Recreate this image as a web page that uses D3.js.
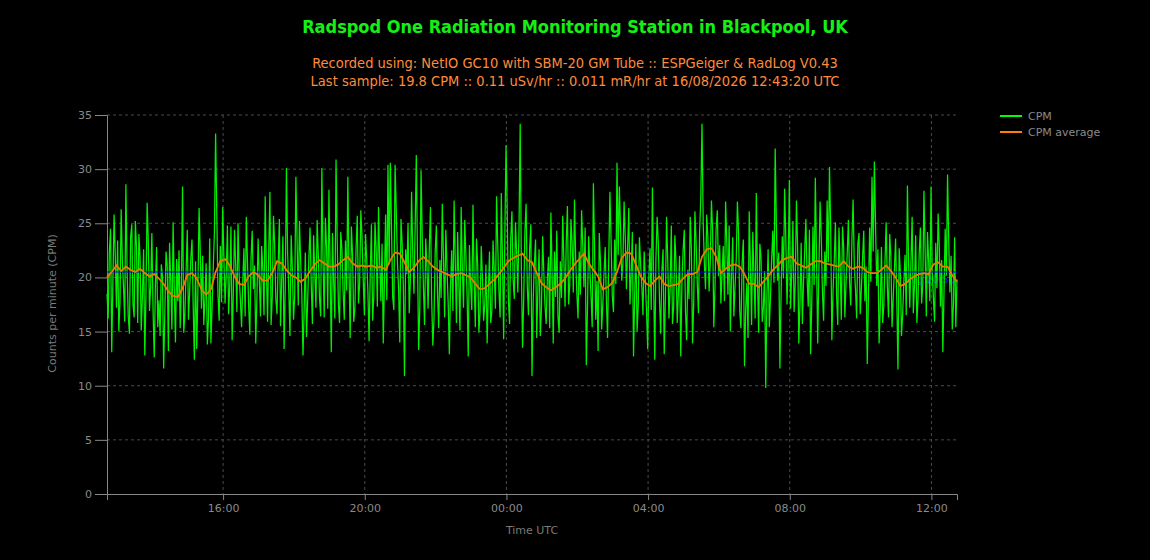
<!DOCTYPE html>
<html>
<head>
<meta charset="utf-8">
<script src="https://cdn.jsdelivr.net/npm/d3@7"></script>
<style>
  body { margin: 0; background: #000; }
  svg { display: block; }
</style>
</head>
<body>
<div id="chart"></div>
<script>
// 24h window ending at the last sample
const windowStart = "2026-08-15T12:43:20Z";
const windowEnd = "2026-08-16T12:43:20Z";

// raw CPM, one reading every 2 minutes
const cpmStepMin = 2;
const cpmValues = [
  18.5,16.2,22.4,24.5,13.1,19.7,25.8,22.1,17.2,23.4,15.0,17.8,26.3,21.6,19.1,15.9,28.6,20.7,16.4,14.8,23.7,24.9,17.5,16.3,25.2,22.8,15.8,24.0,21.9,15.1,18.3,22.6,12.8,18.4,26.9,23.3,16.9,19.2,24.1,17.0,
  12.6,19.3,22.8,15.4,17.9,14.6,21.2,20.1,11.6,16.8,22.4,21.0,13.2,23.2,19.6,15.2,25.1,18.9,14.0,21.7,17.8,22.5,15.3,19.1,28.4,14.9,16.7,20.6,24.4,16.1,18.6,21.8,23.5,17.4,12.4,21.5,13.4,18.8,26.4,22.3,
  17.1,22.0,15.6,18.1,21.3,13.8,16.2,23.6,13.9,17.3,20.8,24.2,33.3,25.9,18.4,16.0,22.9,17.7,26.5,21.9,17.6,20.3,24.8,16.6,19.3,24.7,14.2,18.5,24.4,21.2,16.8,25.0,20.1,17.9,15.4,19.5,22.7,16.4,25.6,21.4,
  17.3,14.7,21.8,24.3,18.9,21.1,13.9,18.2,23.6,19.8,16.4,22.9,20.7,16.5,27.5,20.8,15.9,22.4,27.9,15.6,18.2,25.7,23.1,18.0,16.6,21.3,25.4,15.5,19.8,23.8,13.4,19.0,30.1,22.2,18.7,14.6,23.9,20.9,16.1,18.3,
  29.3,23.5,17.4,25.2,21.6,18.6,12.8,16.9,22.3,14.5,17.9,21.8,24.6,19.4,15.7,23.9,20.4,17.2,25.3,22.1,18.1,16.4,30.1,21.3,16.3,25.5,22.8,17.1,28.1,20.6,13.1,24.1,19.7,16.2,30.9,23.4,17.5,15.8,24.2,22.6,
  18.6,16.1,23.4,18.8,29.3,20.5,14.4,24.7,22.1,15.9,17.2,22.8,25.7,17.6,19.4,26.2,23.8,19.9,16.5,24.0,21.7,18.7,14.1,20.4,24.9,16.0,18.3,25.1,22.6,17.3,26.5,21.4,17.8,23.1,13.9,19.6,25.8,17.9,30.4,21.2,
  30.6,24.6,18.2,17.0,30.4,26.3,21.5,18.9,14.0,25.4,23.2,19.3,10.9,22.6,20.3,25.0,16.7,19.8,27.9,22.2,18.5,24.5,31.3,21.7,13.3,17.4,29.9,23.9,19.2,15.6,23.6,21.0,17.1,22.7,26.5,18.0,13.7,16.2,22.4,24.8,
  18.4,15.3,21.6,18.1,26.8,22.0,16.3,24.4,20.9,17.6,12.9,19.2,22.5,16.9,27.1,21.5,15.8,24.2,19.6,15.1,26.5,20.8,17.2,25.3,22.1,18.4,12.7,23.0,19.3,17.0,26.7,19.7,15.4,23.6,21.1,14.9,16.8,22.9,20.2,16.0,
  17.5,21.2,13.9,18.6,22.4,15.8,16.9,23.4,20.8,17.1,27.5,22.9,18.7,16.3,27.8,21.6,14.3,24.0,32.2,26.4,17.9,15.7,23.6,26.1,19.8,18.0,25.1,22.3,18.6,24.6,34.2,20.9,13.5,18.2,24.3,26.8,19.2,16.5,22.7,24.9,
  10.9,17.8,21.3,23.5,14.4,19.0,22.6,14.6,17.1,23.8,20.5,17.4,15.7,19.9,21.9,15.3,26.0,20.7,13.9,22.4,18.2,24.3,16.4,14.9,21.5,18.1,25.7,21.6,17.3,23.2,26.6,17.5,19.4,25.4,23.1,18.6,27.2,21.7,18.5,16.2,
  22.4,18.4,26.2,23.0,19.1,24.6,11.9,17.2,23.8,20.9,18.2,15.4,28.7,22.5,16.1,19.7,13.2,24.1,21.4,15.2,17.6,20.3,22.8,17.9,14.4,21.6,27.9,23.4,18.3,16.8,23.5,19.4,30.6,22.1,28.4,24.5,19.7,21.3,27.0,23.7,
  18.9,22.8,26.4,17.5,20.3,24.2,12.7,18.4,23.1,15.0,17.4,23.7,21.2,19.3,16.5,22.4,19.8,16.9,13.4,20.2,22.7,17.0,28.3,19.6,12.4,21.8,25.6,23.2,17.9,14.8,20.6,22.6,12.9,18.1,25.6,21.5,16.2,19.0,24.8,15.7,
  17.3,23.9,21.4,15.8,18.6,22.0,12.7,19.5,22.5,24.4,16.9,14.2,20.7,18.0,25.6,22.6,13.9,17.7,26.1,23.3,19.4,16.7,24.2,27.5,34.2,25.1,21.3,18.9,25.8,23.6,18.7,21.4,27.1,24.3,15.4,19.1,24.6,26.2,20.1,23.0,
  17.6,20.4,22.9,17.8,27.0,23.2,18.4,24.8,15.0,20.1,23.7,16.4,19.2,21.7,27.0,24.0,16.8,15.3,21.4,23.5,11.8,17.0,19.5,14.4,26.1,21.1,15.6,24.2,20.3,16.2,27.8,19.8,14.9,23.1,21.8,15.9,17.2,20.6,9.8,18.3,
  22.6,15.4,18.1,21.7,24.3,19.5,31.9,24.8,19.7,22.3,11.6,18.5,23.8,19.9,28.2,23.6,17.5,21.2,29.0,17.1,20.4,25.2,16.8,19.4,27.1,22.8,13.9,17.6,23.2,15.7,19.6,22.5,25.4,20.0,17.3,24.4,12.9,17.8,24.7,19.3,
  29.2,21.9,13.9,20.5,27.0,23.8,18.7,16.0,22.4,19.2,27.1,21.4,30.2,24.6,14.2,18.8,21.5,25.1,18.3,15.6,24.6,21.0,16.1,24.7,22.8,16.3,19.5,22.2,25.3,19.6,17.4,23.5,27.2,21.1,18.9,16.2,23.1,24.1,16.6,19.0,
  21.7,24.3,17.8,21.0,12.0,18.3,24.6,19.6,29.3,22.4,30.7,24.9,19.2,22.6,13.9,17.1,22.8,15.8,17.4,21.5,25.1,19.2,16.3,24.0,21.9,15.4,18.2,20.8,23.6,17.9,11.5,22.7,20.4,14.6,16.7,19.7,22.1,16.5,28.5,21.3,
  17.2,21.4,25.6,16.7,19.4,23.9,15.8,18.1,22.3,24.6,17.6,19.3,28.0,22.5,16.4,24.2,21.5,17.8,28.4,20.6,18.1,15.9,23.2,19.0,25.9,22.8,17.3,21.6,13.1,18.7,24.5,20.2,29.5,23.4,18.6,22.0,15.2,17.5,23.7,15.4,19.8
];

// running average, one point every 8 minutes
const avgStepMin = 8;
const avgValues = [
  20.0, 20.5, 21.1, 20.6, 21.0, 20.7, 20.5, 20.8, 20.4, 20.1, 20.3, 19.9, 19.4, 18.7, 18.3, 18.2, 19.0, 20.2, 20.4, 19.9,
  18.9, 18.4, 18.9, 20.5, 21.5, 21.7, 21.1, 20.1, 19.4, 19.3, 20.1, 20.5, 20.2, 19.7, 19.7, 20.4, 21.5, 21.3, 20.7, 20.2,
  20.0, 19.6, 19.9, 20.6, 21.2, 21.6, 21.3, 21.0, 21.0, 21.2, 21.6, 21.9, 21.3, 21.0, 21.1, 21.0, 21.1, 20.9, 21.0, 20.7,
  21.6, 22.3, 22.2, 21.4, 20.5, 20.9, 21.5, 21.9, 21.5, 21.0, 20.7, 20.5, 20.3, 20.1, 20.3, 20.4, 20.2, 20.0, 19.4, 18.9,
  19.0, 19.4, 19.8, 20.3, 20.9, 21.5, 21.8, 22.0, 22.2, 21.6, 21.4, 20.4, 19.5, 19.1, 18.8, 19.1, 19.4, 19.9, 20.6, 21.2,
  21.7, 22.2, 21.3, 20.7, 20.1, 18.9, 19.1, 19.5, 20.5, 21.8, 22.3, 22.2, 21.2, 20.1, 19.5, 19.2, 19.7, 20.1, 19.4, 19.2,
  19.3, 19.4, 19.9, 20.3, 20.3, 20.5, 21.9, 22.6, 22.7, 21.9, 20.4, 20.8, 21.1, 21.2, 21.0, 20.3, 19.4, 19.4, 19.1, 19.6,
  20.1, 20.7, 21.1, 21.6, 21.8, 21.9, 21.3, 21.1, 20.9, 21.2, 21.5, 21.5, 21.3, 21.2, 21.1, 21.0, 21.5, 21.0, 20.8, 21.0,
  20.9, 20.5, 20.4, 20.4, 20.7, 21.1, 20.6, 20.0, 19.2, 19.4, 19.8, 20.1, 20.3, 20.4, 20.3, 21.2, 21.4, 21.0, 21.0, 20.2,
  19.6
];

// long term mean shown as the blue line
const cpmMean = 20.5;

const yTicks = [0, 5, 10, 15, 20, 25, 30, 35];
const legendNames = ["CPM", "CPM average"];

const titleText = "Radspod One Radiation Monitoring Station in Blackpool, UK";
const subtitleLines = [
  "Recorded using: NetIO GC10 with SBM-20 GM Tube :: ESPGeiger & RadLog V0.43",
  "Last sample: 19.8 CPM :: 0.11 uSv/hr :: 0.011 mR/hr at 16/08/2026 12:43:20 UTC"
];

const width = 1150;
const height = 560;
const margin = {top: 115, right: 193, bottom: 66, left: 107};
const innerW = width - margin.left - margin.right;
const innerH = height - margin.top - margin.bottom;

const t0 = new Date(windowStart);
const cpm = cpmValues.map((v, i) => ({t: new Date(t0.getTime() + i * cpmStepMin * 60000), v: v}));
const avg = avgValues.map((v, i) => ({t: new Date(t0.getTime() + i * avgStepMin * 60000), v: v}));

const svg = d3.select("#chart")
  .append("svg")
  .attr("width", width)
  .attr("height", height)
  .style("background", "#000");

svg.append("text")
  .attr("x", width / 2)
  .attr("y", 33)
  .attr("text-anchor", "middle")
  .style("font-family", "'DejaVu Sans Condensed', 'DejaVu Sans'")
  .style("font-stretch", "condensed")
  .style("font-weight", "bold")
  .style("font-size", "18px")
  .style("fill", "#14f014")
  .text(titleText);

svg.selectAll(".subtitle")
  .data(subtitleLines)
  .enter()
  .append("text")
  .attr("class", "subtitle")
  .attr("x", width / 2)
  .attr("y", (d, i) => 68 + i * 18)
  .attr("text-anchor", "middle")
  .style("font-family", "'DejaVu Sans Condensed', 'DejaVu Sans'")
  .style("font-stretch", "condensed")
  .style("font-size", "14.5px")
  .style("fill", "#ff8a3d")
  .text(d => d);

const g = svg.append("g")
  .attr("transform", `translate(${margin.left}, ${margin.top})`);

const x = d3.scaleUtc().domain([new Date(windowStart), new Date(windowEnd)]).range([0, innerW]);
const y = d3.scaleLinear().domain([0, 35]).range([innerH, 0]);

// grid
g.append("g")
  .selectAll("line")
  .data(yTicks.filter(d => d > 0))
  .enter()
  .append("line")
  .attr("x1", 0)
  .attr("x2", innerW)
  .attr("y1", d => y(d))
  .attr("y2", d => y(d))
  .style("stroke", "#4a4a4a")
  .style("stroke-dasharray", "3,3");

const xTickVals = x.ticks(d3.utcHour.every(4));
g.append("g")
  .selectAll("line")
  .data(xTickVals)
  .enter()
  .append("line")
  .attr("x1", d => x(d))
  .attr("x2", d => x(d))
  .attr("y1", 0)
  .attr("y2", innerH)
  .style("stroke", "#4a4a4a")
  .style("stroke-dasharray", "3,3");

// axes
const xAxis = d3.axisBottom(x).tickValues(xTickVals).tickFormat(d3.utcFormat("%H:%M")).tickSize(6).tickPadding(4);
const yAxis = d3.axisLeft(y).tickValues(yTicks).tickSize(12).tickPadding(3);

const xg = g.append("g").attr("transform", `translate(0, ${innerH})`).call(xAxis);
const yg = g.append("g").call(yAxis);

[xg, yg].forEach(a => {
  a.select(".domain").style("stroke", "#888");
  a.selectAll(".tick line").style("stroke", "#888");
  a.selectAll(".tick text")
    .style("fill", "#8a8a8a")
    .style("font-family", "'DejaVu Sans'")
    .style("font-size", "11px");
});

g.append("text")
  .attr("transform", "rotate(-90)")
  .attr("x", -(innerH / 2) + 1)
  .attr("y", -51)
  .attr("text-anchor", "middle")
  .style("font-family", "'DejaVu Sans'")
  .style("font-size", "11px")
  .style("fill", "#7a7a7a")
  .text("Counts per minute (CPM)");

g.append("text")
  .attr("x", innerW / 2)
  .attr("y", innerH + 40)
  .attr("text-anchor", "middle")
  .style("font-family", "'DejaVu Sans'")
  .style("font-size", "11px")
  .style("fill", "#7a7a7a")
  .text("Time UTC");

// mean label sits underneath the trace
g.append("text")
  .attr("x", innerW - 2)
  .attr("y", y(cpmMean) + 11)
  .attr("text-anchor", "end")
  .style("font-family", "'DejaVu Sans'")
  .style("font-size", "10px")
  .style("fill", "#0030ff")
  .text("avg " + cpmMean.toFixed(2));

const line = d3.line()
  .x(d => x(d.t))
  .y(d => y(d.v));

g.append("path")
  .datum(cpm)
  .attr("d", line)
  .style("fill", "none")
  .style("stroke", "#00f000")
  .style("stroke-width", 1.25);

g.append("line")
  .attr("x1", 0)
  .attr("x2", innerW)
  .attr("y1", y(cpmMean))
  .attr("y2", y(cpmMean))
  .style("stroke", "#0000ff")
  .style("stroke-width", 1);

g.append("path")
  .datum(avg)
  .attr("d", line)
  .style("fill", "none")
  .style("stroke", "#ee7a00")
  .style("stroke-width", 1.8);

// legend
const legendColors = ["#00ff00", "#ff8000"];
const legend = svg.append("g").attr("transform", "translate(1000, 116)");
legendNames.forEach((name, i) => {
  legend.append("line")
    .attr("x1", 0)
    .attr("x2", 22)
    .attr("y1", i * 16)
    .attr("y2", i * 16)
    .style("stroke", legendColors[i])
    .style("stroke-width", 2);
  legend.append("text")
    .attr("x", 28)
    .attr("y", i * 16)
    .attr("dy", "0.35em")
    .style("font-family", "'DejaVu Sans'")
    .style("font-size", "11px")
    .style("fill", "#8a8a8a")
    .text(name);
});
</script>
</body>
</html>
